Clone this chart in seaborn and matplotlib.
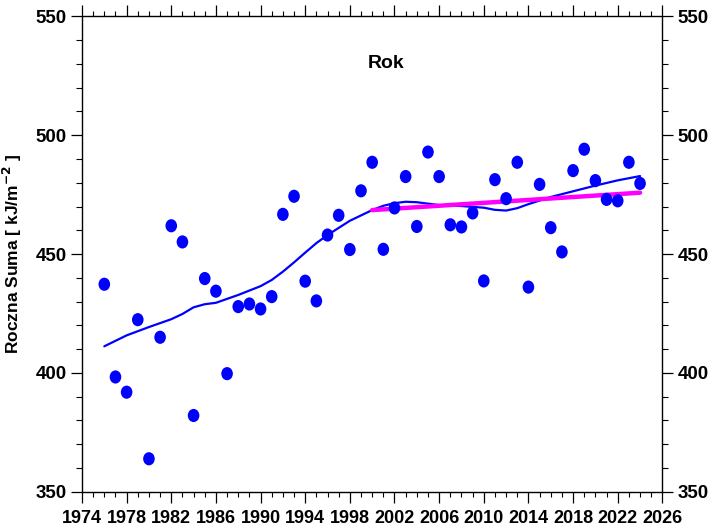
import numpy as np
import pandas as pd
import matplotlib
matplotlib.use('Agg')
import matplotlib.pyplot as plt
import seaborn as sns
from matplotlib.path import Path
from matplotlib.ticker import MultipleLocator, FixedLocator

# roczne sumy
lata = list(range(1976, 2025))
suma = [437.3, 398.3, 391.9, 422.4, 363.9, 415.0, 461.9, 455.1, 382.1, 439.7,
        434.4, 399.7, 427.9, 429.0, 426.9, 432.1, 466.7, 474.3, 438.6, 430.3,
        458.0, 466.3, 451.9, 476.6, 488.6, 452.0, 469.4, 482.6, 461.6, 492.9,
        482.6, 462.3, 461.4, 467.3, 438.7, 481.3, 473.3, 488.6, 436.1, 479.3,
        461.1, 450.9, 485.1, 494.1, 480.9, 473.0, 472.4, 488.6, 479.7]

# krzywa wygladzona
lata_wyg = [1976, 1978, 1980, 1982, 1983, 1984, 1985, 1986, 1988, 1990, 1991,
            1992, 1993, 1994, 1995, 1996, 1998, 2000, 2001, 2002, 2003, 2004,
            2006, 2008, 2010, 2011, 2012, 2013, 2014, 2016, 2018, 2020, 2022, 2024]
wyg = [411.2, 415.8, 419.3, 422.6, 424.8, 427.6, 428.9, 429.5, 432.8, 436.5,
       439.1, 442.6, 446.5, 450.6, 454.6, 458.0, 464.0, 468.5, 470.3, 471.4,
       472.0, 471.8, 470.6, 470.2, 469.5, 468.6, 468.3, 469.3, 471.0, 474.0,
       476.4, 478.8, 481.0, 482.8]

trend_od = 2000
x_ticks = list(range(1974, 2027, 4))

df = pd.DataFrame({'rok': lata, 'suma': suma})
df_wyg = pd.DataFrame({'rok': lata_wyg, 'wyg': wyg})
df_tr = df[df['rok'] >= trend_od]

sns.set_style('ticks')
plt.rcParams['font.family'] = ['Liberation Sans', 'DejaVu Sans']
plt.rcParams['text.color'] = 'black'
plt.rcParams['axes.labelcolor'] = 'black'
plt.rcParams['xtick.color'] = 'black'
plt.rcParams['ytick.color'] = 'black'

fig = plt.figure(figsize=(7.11, 5.31), dpi=100)
ax = fig.add_axes([0.1153, 0.0738, 0.8163, 0.8955])

# marker lekko owalny
circ = Path.unit_circle()
owal = Path(circ.vertices * np.array([0.88, 1.0]), circ.codes)

sns.lineplot(x='rok', y='wyg', data=df_wyg, color='#0000ff', lw=1.6, ax=ax)
sns.regplot(x='rok', y='suma', data=df_tr, scatter=False, ci=None, truncate=True,
            line_kws={'color': '#ff00ff', 'lw': 3.2}, ax=ax)
sns.scatterplot(x='rok', y='suma', data=df, color='#0000ff', marker=owal, s=90,
                edgecolor='none', zorder=5, ax=ax)

ax.set_xlim(1974, 2026)
ax.set_ylim(350, 550)
ax.xaxis.set_major_locator(FixedLocator(x_ticks))
ax.xaxis.set_minor_locator(MultipleLocator(1))
ax.yaxis.set_major_locator(MultipleLocator(50))
ax.yaxis.set_minor_locator(MultipleLocator(10))

ax.tick_params(axis='x', which='both', top=True, bottom=True, direction='out')
ax.tick_params(axis='x', which='major', length=8, width=0.9, pad=5, labelsize=13)
ax.tick_params(axis='x', which='minor', length=3.5, width=0.8)
ax.tick_params(axis='y', which='both', left=True, right=True, labelright=True, direction='out')
ax.tick_params(axis='y', which='major', length=8, width=0.9, pad=3, labelsize=13.5)
ax.tick_params(axis='y', which='minor', length=4.5, width=0.8)

for lab in ax.get_xticklabels() + ax.get_yticklabels():
    lab.set_fontweight('bold')
for t in ax.yaxis.get_major_ticks():
    t.label2.set_fontweight('bold')

for s in ax.spines.values():
    s.set_visible(True)
    s.set_color('black')
    s.set_linewidth(1.0)

ax.set_xlabel('')
ax.set_ylabel('Roczna Suma [ kJ/m$^{\\mathbf{-2}}$ ]', fontsize=12.5, fontweight='bold')
ax.yaxis.set_label_coords(-0.1, 0.5)

ax.text(2001.2, 530, 'Rok', fontsize=14, fontweight='bold', ha='center', va='center')

plt.savefig('out.png', dpi=100)
